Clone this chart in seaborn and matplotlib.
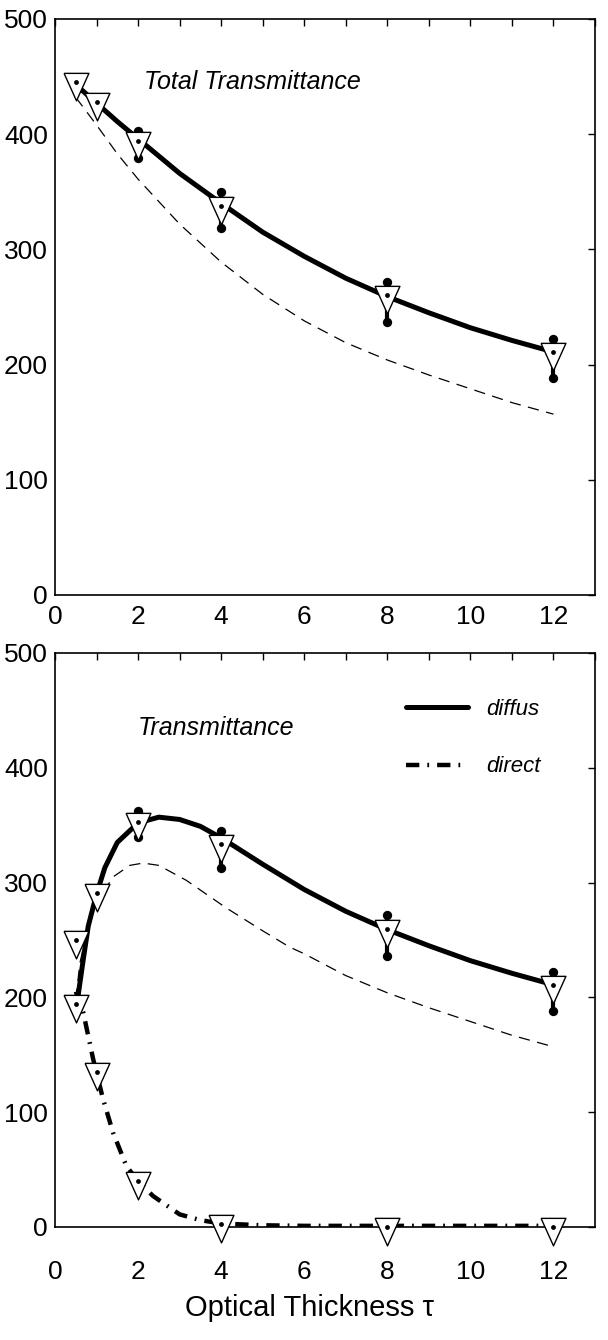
import matplotlib
matplotlib.use("Agg")
import matplotlib.pyplot as plt
import seaborn as sns
from matplotlib import font_manager as fm

sns.set_theme(style="white")
avail = {f.name for f in fm.fontManager.ttflist}
fam = ['Liberation Sans Narrow'] if 'Liberation Sans Narrow' in avail else ['Liberation Sans']
plt.rcParams['font.family'] = fam + ['DejaVu Sans']
plt.rcParams['text.color'] = 'black'
plt.rcParams['axes.labelcolor'] = 'black'
plt.rcParams['xtick.color'] = 'black'
plt.rcParams['ytick.color'] = 'black'

# ---------------- data ----------------
tau_meas = [0.5, 1, 2, 4, 8, 12]
total_meas = [445, 428, 394, 338, 260, 211]
diffus_meas = [250, 291, 353, 334, 260, 211]
direct_meas = [194, 135, 40, 3, 0, 0]

err_tau_top = [2, 4, 8, 12]
err_lo_top = [379, 319, 237, 188]
err_hi_top = [403, 350, 272, 222]
err_tau_bot = [2, 4, 8, 12]
err_lo_bot = [340, 313, 236, 188]
err_hi_bot = [362, 345, 272, 222]

tau_total = [0.5, 1, 1.5, 2, 3, 4, 5, 6, 7, 8, 9, 10, 11, 12]
total_solid = [443, 427, 411, 396, 366, 340, 315, 294, 275, 259, 245, 232, 221, 211]
total_dash = [432, 408, 383, 361, 322, 289, 261, 238, 219, 204, 191, 179, 167, 157]

tau_diff = [0.55, 0.68, 0.8, 1.0, 1.2, 1.5, 2.0, 2.5, 3.0, 3.5, 4, 5, 6, 7, 8, 9, 10, 11, 12]
diffus_solid = [200, 233, 262, 290, 313, 335, 352, 357, 355, 349, 339, 316, 294, 275, 259, 245, 232, 221, 211]

tau_dd = [0.5, 0.6, 0.8, 1.0, 1.4, 1.8, 2.12, 2.5, 3.16, 4.12, 5, 5.64, 6, 7, 8, 9, 10, 11, 12]
diffus_dash = [198, 230, 262, 283, 305, 315, 317, 315, 302, 278, 258, 244, 238, 219, 204, 191, 179, 167, 157]

tau_dir = [0.5, 0.68, 0.92, 1.16, 1.4, 1.72, 2.0, 2.36, 3.0, 3.5, 4, 5, 6, 8, 10, 12]
direct_line = [205, 187, 146, 111, 82, 53, 40, 27, 11, 6, 3, 1.5, 1, 1, 1, 1]

xticks = list(range(0, 14))
xticklabels = [str(t) if t % 2 == 0 and t <= 12 else '' for t in xticks]
yticks = [0, 100, 200, 300, 400, 500]

# down-pointing triangle whose centroid is the data point
tri = [(-0.676, 0.497), (0.676, 0.497), (0.0, -1.0), (-0.676, 0.497)]

# ---------------- figure ----------------
fig = plt.figure(figsize=(6.08, 13.40), dpi=100)
ax1 = fig.add_axes([55/608, 1-595/1340, 540/608, 576/1340])
ax2 = fig.add_axes([55/608, 1-1227/1340, 540/608, 574/1340])


def style_axes(ax, xpad):
    ax.set_xlim(0, 13)
    ax.set_ylim(0, 500)
    ax.set_xticks(xticks)
    ax.set_xticklabels(xticklabels)
    ax.set_yticks(yticks)
    ax.set_yticklabels([str(v) for v in yticks])
    ax.tick_params(direction='in', length=5, width=1, top=True, right=True,
                   labelsize=19, colors='black', pad=5)
    ax.tick_params(axis='x', pad=xpad)
    for s in ax.spines.values():
        s.set_visible(True)
        s.set_color('black')
        s.set_linewidth(1.2)
    ax.set_xlabel('')
    ax.set_ylabel('')


def draw_markers(ax, x, y):
    sns.scatterplot(x=x, y=y, marker=tri, s=700, color='white', edgecolor='black',
                    linewidth=1.0, ax=ax, zorder=6, legend=False, clip_on=False)
    sns.scatterplot(x=x, y=y, marker='o', s=12, color='black', edgecolor='black',
                    linewidth=0, ax=ax, zorder=7, legend=False, clip_on=False)


def draw_err(ax, x, lo, hi):
    ax.vlines(x, lo, hi, colors='black', linewidth=3, zorder=4)
    sns.scatterplot(x=x, y=lo, marker='o', s=45, color='black', linewidth=0, ax=ax,
                    zorder=5, legend=False)
    sns.scatterplot(x=x, y=hi, marker='o', s=45, color='black', linewidth=0, ax=ax,
                    zorder=5, legend=False)


# ---- top panel ----
sns.lineplot(x=tau_total, y=total_dash, ax=ax1, color='black', linewidth=0.9, zorder=2)
ax1.lines[-1].set_linestyle((0, (9, 6)))
sns.lineplot(x=tau_total, y=total_solid, ax=ax1, color='black', linewidth=3.6, zorder=3)
draw_err(ax1, err_tau_top, err_lo_top, err_hi_top)
draw_markers(ax1, tau_meas, total_meas)
ax1.text(2.15, 445, 'Total Transmittance', fontsize=18,
         style='italic', ha='left', va='center')
style_axes(ax1, 7)

# ---- bottom panel ----
sns.lineplot(x=tau_dd, y=diffus_dash, ax=ax2, color='black', linewidth=0.9, zorder=2)
ax2.lines[-1].set_linestyle((0, (9, 6)))
sns.lineplot(x=tau_diff, y=diffus_solid, ax=ax2, color='black', linewidth=3.6,
             zorder=3, label='diffus')
sns.lineplot(x=tau_dir, y=direct_line, ax=ax2, color='black', linewidth=3.2, zorder=3,
             label='direct')
ax2.lines[-1].set_linestyle((0, (3, 1.8, 0.4, 1.8)))
draw_err(ax2, err_tau_bot, err_lo_bot, err_hi_bot)
draw_markers(ax2, tau_meas, diffus_meas)
draw_markers(ax2, tau_meas, direct_meas)
ax2.text(2.0, 435, 'Transmittance', fontsize=18, style='italic', ha='left', va='center')
leg = ax2.legend(loc='upper right', bbox_to_anchor=(0.936, 0.955), frameon=False,
                 handlelength=2.8, handletextpad=0.8, labelspacing=1.65,
                 prop={'style': 'italic', 'size': 16})
style_axes(ax2, 24)
ax2.set_xlabel('Optical Thickness \u03c4', fontsize=21)
ax2.xaxis.set_label_coords(0.472, -0.117)

fig.savefig('out.png', dpi=100, facecolor='white')
